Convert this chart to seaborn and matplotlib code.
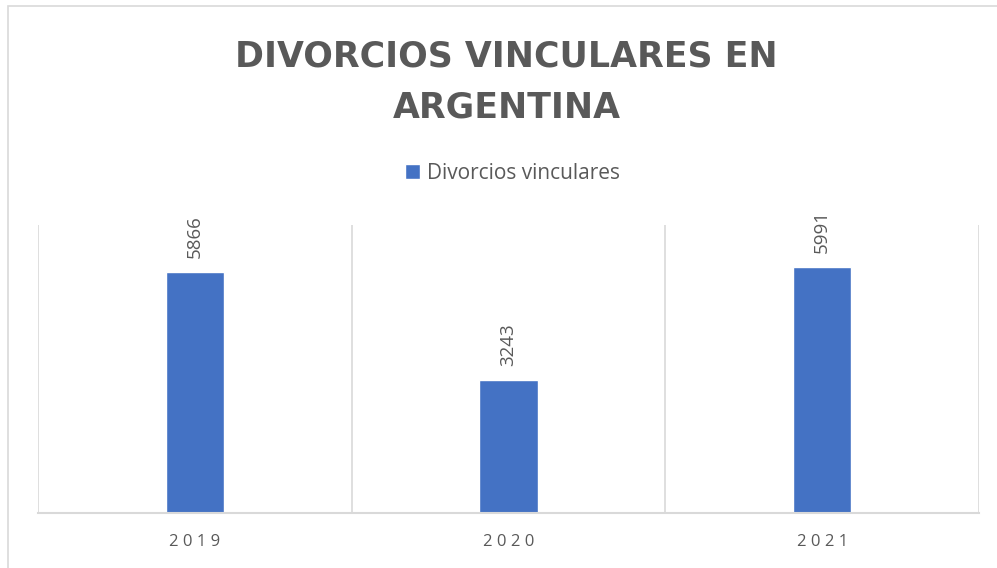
import matplotlib
matplotlib.use("Agg")
import matplotlib.pyplot as plt
import seaborn as sns
import pandas as pd
from matplotlib.patches import Rectangle

# Chart data
years = ["2019", "2020", "2021"]
divorcios = [5866, 3243, 5991]
series_name = "Divorcios vinculares"
title = "DIVORCIOS VINCULARES EN\nARGENTINA"

bar_color = "#4472C4"
text_color = "#595959"
grid_color = "#D9D9D9"

sns.set_style("white")
plt.rcParams["font.family"] = ["Open Sans", "DejaVu Sans"]

df = pd.DataFrame({"year": years, "value": divorcios})

fig = plt.figure(figsize=(9.97, 5.68), dpi=100)
ax = fig.add_axes([38 / 997, 55 / 568, (979 - 38) / 997, (513 - 225) / 568])

sns.barplot(data=df, x="year", y="value", color=bar_color, width=0.185,
            ax=ax, label=series_name, saturation=1)
if ax.get_legend() is not None:
    ax.get_legend().remove()

ax.set_xlim(-0.5, 2.5)
ax.set_ylim(0, 7000)
ax.set_yticks([])
ax.set_xlabel("")
ax.set_ylabel("")

# category separators as vertical gridlines
ax.set_xticks([-0.5, 0.5, 1.5, 2.5], minor=True)
ax.grid(which="minor", axis="x", color=grid_color, linewidth=1.2)
ax.tick_params(axis="x", which="both", length=0)
ax.set_xticks(range(len(years)))
ax.set_xticklabels([" ".join(y) for y in years], fontsize=12, color=text_color)
ax.tick_params(axis="x", pad=15)

for side in ["left", "right", "top"]:
    ax.spines[side].set_visible(False)
ax.spines["bottom"].set_color(grid_color)
ax.spines["bottom"].set_linewidth(1.5)

# value labels
for i, v in enumerate(divorcios):
    ax.annotate(str(v), (i, v), xytext=(0, 10), textcoords="offset points",
                rotation=90, ha="center", va="bottom", fontsize=13.5,
                color=text_color)

handles, labels = ax.get_legend_handles_labels()
leg = fig.legend(handles[:1], labels[:1], loc="center",
                 bbox_to_anchor=(0.514, 0.695), frameon=False,
                 fontsize=15, handlelength=0.72, handleheight=0.72,
                 handletextpad=0.3)
for t in leg.get_texts():
    t.set_color(text_color)

fig.text(0.508, 0.855, title, ha="center", va="center", fontsize=25,
         fontweight="bold", color=text_color, linespacing=1.63,
         family="DejaVu Sans")

# outer chart border
fig.patches.append(Rectangle((8 / 997, -0.1), 1.1, 1 - 6 / 568 + 0.1,
                             transform=fig.transFigure, fill=False,
                             edgecolor=grid_color, linewidth=1.2))

fig.savefig("out.png", dpi=100)
